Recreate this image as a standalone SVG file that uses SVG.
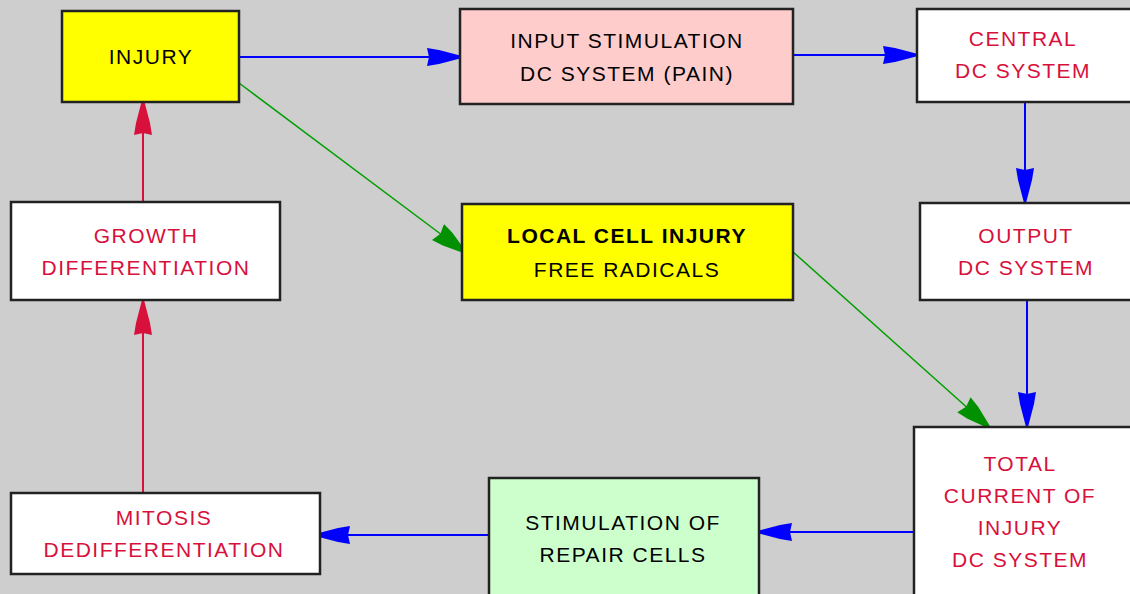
<svg xmlns="http://www.w3.org/2000/svg" width="1130" height="594" viewBox="0 0 1130 594">
<defs>
<style>
.box{stroke:#222;stroke-width:2.5}
.t{font-family:"Liberation Sans",Arial,sans-serif;font-size:21px;letter-spacing:1.5px;text-anchor:middle}
.r{fill:#d8103c}
.k{fill:#000}
.blue{stroke:#0000ff;stroke-width:2;fill:none}
.green{stroke:#00a000;stroke-width:1.5;fill:none}
.red{stroke:#d8103c;stroke-width:2;fill:none}
</style>
<marker id="ab" markerWidth="36" markerHeight="20" refX="35" refY="10" orient="auto" markerUnits="userSpaceOnUse">
<path d="M0,1 L12,3 L35,9 L35,11 L12,17 L0,19 L2,10 Z" fill="#0000ff"/>
</marker>
<marker id="ag" markerWidth="36" markerHeight="22" refX="35" refY="11" orient="auto" markerUnits="userSpaceOnUse">
<path d="M0,1 L12,3 L35,10 L35,12 L12,19 L0,21 L3,11 Z" fill="#009000"/>
</marker>
<marker id="ar" markerWidth="36" markerHeight="20" refX="35" refY="10" orient="auto" markerUnits="userSpaceOnUse">
<path d="M0,1 L12,3 L35,9 L35,11 L12,17 L0,19 L2,10 Z" fill="#d8103c"/>
</marker>
</defs>
<rect width="1130" height="594" fill="#cecece"/>
<g id="connectors">
<line class="blue" x1="239" y1="57" x2="462" y2="57" marker-end="url(#ab)"/>
<line class="blue" x1="793" y1="55" x2="918" y2="55" marker-end="url(#ab)"/>
<line class="blue" x1="1025" y1="102" x2="1025" y2="203" marker-end="url(#ab)"/>
<line class="blue" x1="1027" y1="300" x2="1027" y2="427" marker-end="url(#ab)"/>
<line class="blue" x1="914" y1="532" x2="757" y2="532" marker-end="url(#ab)"/>
<line class="blue" x1="489" y1="535" x2="315" y2="535" marker-end="url(#ab)"/>
<line class="green" x1="239" y1="83" x2="466" y2="253" marker-end="url(#ag)"/>
<line class="green" x1="792" y1="251" x2="990" y2="428" marker-end="url(#ag)"/>
<line class="red" x1="143" y1="493" x2="143" y2="300" marker-end="url(#ar)"/>
<line class="red" x1="143" y1="202" x2="143" y2="100" marker-end="url(#ar)"/>
</g>
<g id="injury">
<rect class="box" x="62" y="11" width="177" height="91" fill="#ffff00"/>
<text class="t k" x="151" y="64">INJURY</text>
</g>
<g id="input">
<rect class="box" x="460" y="9" width="333" height="95" fill="#ffcccc"/>
<text class="t k" x="627" y="48">INPUT STIMULATION</text>
<text class="t k" x="627" y="81">DC SYSTEM (PAIN)</text>
</g>
<g id="central">
<rect class="box" x="917" y="9" width="220" height="93" fill="#ffffff"/>
<text class="t r" x="1023" y="46">CENTRAL</text>
<text class="t r" x="1023" y="78">DC SYSTEM</text>
</g>
<g id="output">
<rect class="box" x="920" y="203" width="217" height="97" fill="#ffffff"/>
<text class="t r" x="1026" y="243">OUTPUT</text>
<text class="t r" x="1026" y="275">DC SYSTEM</text>
</g>
<g id="growth">
<rect class="box" x="11" y="202" width="269" height="98" fill="#ffffff"/>
<text class="t r" x="146" y="243">GROWTH</text>
<text class="t r" x="146" y="275">DIFFERENTIATION</text>
</g>
<g id="local">
<rect class="box" x="462" y="204" width="331" height="96" fill="#ffff00"/>
<text class="t k" x="627" y="243" font-weight="bold">LOCAL CELL INJURY</text>
<text class="t k" x="627" y="277">FREE RADICALS</text>
</g>
<g id="total">
<rect class="box" x="914" y="427" width="223" height="180" fill="#ffffff"/>
<text class="t r" x="1020" y="471">TOTAL</text>
<text class="t r" x="1020" y="503">CURRENT OF</text>
<text class="t r" x="1020" y="535">INJURY</text>
<text class="t r" x="1020" y="567">DC SYSTEM</text>
</g>
<g id="repair">
<rect class="box" x="489" y="478" width="270" height="130" fill="#ccffcc"/>
<text class="t k" x="623" y="530">STIMULATION OF</text>
<text class="t k" x="623" y="562">REPAIR CELLS</text>
</g>
<g id="mitosis">
<rect class="box" x="11" y="493" width="309" height="81" fill="#ffffff"/>
<text class="t r" x="164" y="525">MITOSIS</text>
<text class="t r" x="164" y="557">DEDIFFERENTIATION</text>
</g>
</svg>
